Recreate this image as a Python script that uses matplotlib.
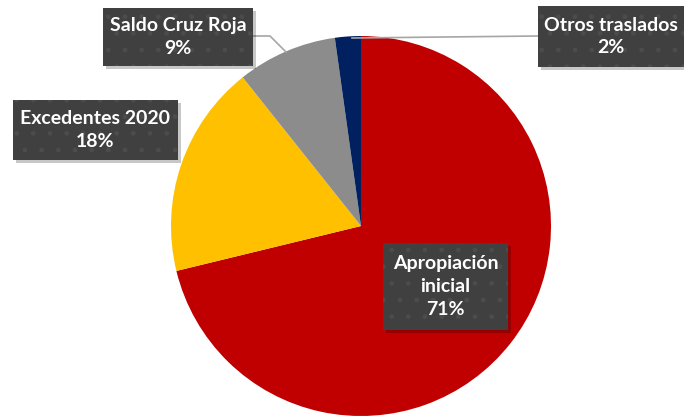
import matplotlib.pyplot as plt
from matplotlib.patches import Rectangle

# slice data, clockwise from the top
labels = ["Apropiación\ninicial", "Excedentes 2020", "Saldo Cruz Roja", "Otros traslados"]
shares = [71.2, 18.1, 8.5, 2.2]
pct_text = ["71%", "18%", "9%", "2%"]
colors = ["#C00000", "#FFC000", "#8C8C8C", "#002060"]

H = 418
fig = plt.figure(figsize=(6.84, 4.18), dpi=100)
ax = fig.add_axes([0, 0, 1, 1])

ax.pie(shares, colors=colors, startangle=90, counterclock=False,
       center=(361, H - 226), radius=190, frame=True,
       wedgeprops=dict(linewidth=0))
ax.set_xlim(0, 684)
ax.set_ylim(0, H)
ax.set_aspect("equal")
ax.axis("off")

# leader lines (image pixel coords)
def leader(pts):
    xs = [p[0] for p in pts]
    ys = [H - p[1] for p in pts]
    ax.plot(xs, ys, color="#A6A6A6", lw=1.2, zorder=3)

leader([(253, 36), (270, 36), (286, 52)])
leader([(538, 36), (352, 38)])

# label boxes: x0, y0, x1, y1 in image pixels
boxes = [(383, 243, 508, 330), (13, 100, 178, 160), (103, 8, 253, 66), (538, 6, 684, 67)]

for lab, pct, (x0, y0, x1, y1) in zip(labels, pct_text, boxes):
    # shadow
    ax.add_patch(Rectangle((x0 + 3, H - y1 - 3), x1 - x0, y1 - y0,
                           facecolor="#000000", alpha=0.22, lw=0, zorder=4))
    ax.add_patch(Rectangle((x0, H - y1), x1 - x0, y1 - y0,
                           facecolor="#404040", edgecolor="#4C4C4C", hatch=".",
                           lw=0, zorder=5))
    ax.text((x0 + x1) / 2, H - (y0 + y1) / 2, lab + "\n" + pct,
            ha="center", va="center", color="white", fontsize=14,
            fontweight="bold", family="Lato", linespacing=1.4, zorder=6)

fig.savefig("out.png", dpi=100)
